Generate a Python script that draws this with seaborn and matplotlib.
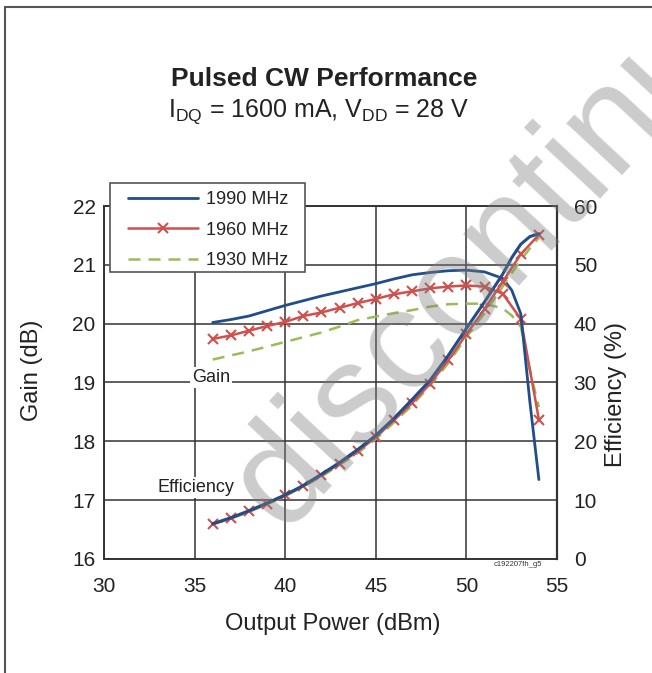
import matplotlib
matplotlib.use("Agg")
import matplotlib.pyplot as plt
from matplotlib.lines import Line2D
from matplotlib.patches import Rectangle
import seaborn as sns

# Output power (dBm)
power = [36, 37, 38, 39, 40, 41, 42, 43, 44, 45, 46, 47, 48, 49, 50, 51, 52, 53, 54]
power_fine = [36, 37, 38, 39, 40, 41, 42, 43, 44, 45, 46, 47, 48, 49, 50, 51, 52, 52.5, 53, 53.5, 54]

# 1990 MHz
gain_1990 = [20.02, 20.07, 20.13, 20.22, 20.31, 20.39, 20.47, 20.54, 20.61, 20.68, 20.76,
             20.83, 20.87, 20.90, 20.91, 20.88, 20.77, 20.57, 20.17, 18.68, 17.35]
eff_1990 = [6.0, 7.0, 8.2, 9.5, 10.9, 12.5, 14.4, 16.4, 18.6, 21.0, 23.9,
            27.1, 30.4, 34.6, 39.2, 43.7, 48.4, 51.2, 53.5, 54.8, 55.3]

# 1960 MHz (measured points with markers)
gain_1960 = [19.74, 19.80, 19.88, 19.96, 20.03, 20.13, 20.19, 20.27, 20.35, 20.42,
             20.50, 20.55, 20.60, 20.63, 20.65, 20.63, 20.51, 20.08, 18.37]
eff_1960 = [5.9, 6.9, 8.1, 9.4, 10.8, 12.4, 14.2, 16.2, 18.3, 20.7,
            23.6, 26.5, 29.8, 33.8, 38.2, 42.5, 47.1, 51.8, 55.1]

# 1930 MHz
gain_1930 = [19.39, 19.46, 19.53, 19.61, 19.69, 19.77, 19.85, 19.95, 20.06, 20.12, 20.18,
             20.23, 20.29, 20.33, 20.34, 20.34, 20.26, 20.14, 19.95, 19.21, 18.58]
eff_1930 = [5.9, 6.9, 8.0, 9.3, 10.7, 12.3, 14.0, 16.0, 18.0, 20.4, 23.2,
            26.1, 29.5, 33.3, 37.7, 41.8, 46.3, 48.6, 50.8, 52.8, 54.6]

labels = ["1990 MHz", "1960 MHz", "1930 MHz"]
colors = ["#1F4E89", "#D0504D", "#9BBB59"]
dash = (0, (4.8, 3.2))

sns.set_style("white")
plt.rcParams["font.family"] = ["Liberation Sans", "DejaVu Sans"]
plt.rcParams["mathtext.fontset"] = "custom"
plt.rcParams["mathtext.rm"] = "Liberation Sans"

fig = plt.figure(figsize=(6.52, 6.73), dpi=100)
ax = fig.add_axes([0.1595, 0.1694, 0.6948, 0.5245])
ax2 = ax.twinx()

# gain curves (left axis)
sns.lineplot(x=power_fine, y=gain_1990, ax=ax, color=colors[0], lw=2.0, zorder=4)
sns.lineplot(x=power, y=gain_1960, ax=ax, color=colors[1], lw=1.8, marker="x",
             markersize=7, markeredgewidth=1.5, markeredgecolor=colors[1], zorder=3)
sns.lineplot(x=power_fine, y=gain_1930, ax=ax, color=colors[2], lw=1.8,
             linestyle=dash, zorder=2)

# efficiency curves (right axis)
sns.lineplot(x=power_fine, y=eff_1930, ax=ax2, color=colors[2], lw=1.8,
             linestyle=dash, zorder=2)
sns.lineplot(x=power, y=eff_1960, ax=ax2, color=colors[1], lw=1.8, marker="x",
             markersize=7, markeredgewidth=1.5, markeredgecolor=colors[1], zorder=3)
sns.lineplot(x=power_fine, y=eff_1990, ax=ax2, color=colors[0], lw=2.2, zorder=4)

ax.set_xlim(30, 55)
ax.set_ylim(16, 22)
ax2.set_ylim(0, 60)
ax.set_xticks(range(30, 56, 5))
ax.set_yticks(range(16, 23))
ax2.set_yticks(range(0, 61, 10))

ax.grid(True, color="#333333", lw=1.1)
ax.set_axisbelow(True)
for s in ax.spines.values():
    s.set_color("#333333")
    s.set_linewidth(1.4)
for s in ax2.spines.values():
    s.set_visible(False)
ax2.spines["right"].set_visible(True)
ax2.spines["right"].set_color("#333333")
ax2.spines["right"].set_linewidth(1.6)

ax.tick_params(axis="both", length=0, labelsize=15, colors="#222222")
ax.tick_params(axis="x", pad=13)
ax.tick_params(axis="y", pad=6)
ax2.tick_params(axis="y", length=0, labelsize=15, pad=12, colors="#222222")

ax.set_xlabel("Output Power (dBm)", fontsize=17, color="#222222")
ax.set_ylabel("Gain (dB)", fontsize=17, color="#222222")
ax2.set_ylabel("Efficiency (%)", fontsize=17, color="#222222")
ax.xaxis.set_label_coords(0.5055, -0.153)
ax.yaxis.set_label_coords(-0.135, 0.535)
ax2.yaxis.set_label_coords(1.106, 0.465)

# curve group labels
ax.text(35.9, 19.09, "Gain", fontsize=13, ha="center", va="center", color="#222222",
        bbox=dict(facecolor="white", edgecolor="none", pad=1.5), zorder=5)
ax.text(35.1, 17.22, "Efficiency", fontsize=13, ha="center", va="center", color="#222222",
        bbox=dict(facecolor="white", edgecolor="none", pad=1.5), zorder=5)

# legend: frame drawn separately so the padding can differ per side
fig.add_artist(Rectangle((110 / 652, 1 - 272 / 673), 195 / 652, 89 / 673,
                         transform=fig.transFigure, facecolor="white",
                         edgecolor="#555555", lw=1.2, zorder=6))
handles = [
    Line2D([], [], color=colors[0], lw=2.0),
    Line2D([], [], color=colors[1], lw=1.8, marker="x", markersize=7, markeredgewidth=1.5),
    Line2D([], [], color=colors[2], lw=1.8, linestyle=dash),
]
leg = fig.legend(handles, labels, loc="upper left", bbox_to_anchor=(128 / 652, 1 - 191 / 673),
                 bbox_transform=fig.transFigure, borderaxespad=0, borderpad=0,
                 fontsize=13, frameon=False, handlelength=3.9, handletextpad=0.4,
                 labelspacing=0.75)
leg.set_zorder(7)
for t in leg.get_texts():
    t.set_color("#222222")

# titles
fig.text(324 / 652, 1 - 86 / 673, "Pulsed CW Performance", ha="center", va="baseline",
         fontsize=19, fontweight="bold", color="#222222")
fig.text(319 / 652, 1 - 117 / 673,
         r"I$_{\mathregular{DQ}}$ = 1600 mA, V$_{\mathregular{DD}}$ = 28 V",
         ha="center", va="baseline", fontsize=18, color="#222222")

fig.text(542 / 652, 1 - 565 / 673, "c192207fh_g5", ha="right", va="center",
         fontsize=5.5, color="#333333")

# outer frame
fig.add_artist(Line2D([5 / 652, 5 / 652], [0, 1 - 7 / 673], transform=fig.transFigure,
                      color="#555555", lw=1.5))
fig.add_artist(Line2D([5 / 652, 1], [1 - 7 / 673, 1 - 7 / 673], transform=fig.transFigure,
                      color="#555555", lw=1.5))

# watermark
fig.text(283 / 652, 1 - 532 / 673, "discontinued", rotation=47, rotation_mode="anchor",
         ha="left", va="baseline", fontsize=103, color="#7f7f7f",
         alpha=0.4, zorder=20)

fig.savefig("out.png", dpi=100)
